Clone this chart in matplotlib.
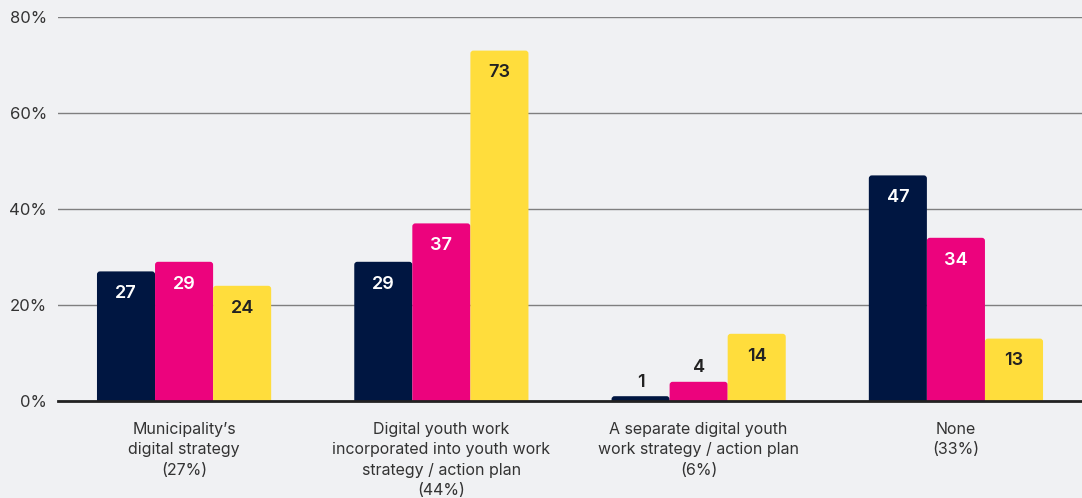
import matplotlib
matplotlib.use("Agg")
import matplotlib.pyplot as plt
from matplotlib.patches import FancyBboxPatch
import numpy as np

# Data
categories = [
    "Municipality\u2019s\ndigital strategy\n(27%)",
    "Digital youth work\nincorporated into youth work\nstrategy / action plan\n(44%)",
    "A separate digital youth\nwork strategy / action plan\n(6%)",
    "None\n(33%)",
]
series_a = [27, 29, 1, 47]
series_b = [29, 37, 4, 34]
series_c = [24, 73, 14, 13]
y_ticks = [0, 20, 40, 60, 80]
y_tick_labels = ["0%", "20%", "40%", "60%", "80%"]

colors = ["#001641", "#EC037D", "#FFDD3C"]
text_colors = ["white", "white", "#222222"]
bg = "#F0F1F3"

plt.rcParams["font.family"] = ["Inter", "DejaVu Sans"]

W, H = 1082, 498
fig = plt.figure(figsize=(W / 100, H / 100), dpi=100, facecolor=bg)
ax = fig.add_axes([58 / W, (H - 401) / H, (W - 58) / W, (401 - 17) / H])
ax.set_facecolor(bg)

x = np.arange(len(categories))
bw = 58 / 257
ax.set_xlim(-0.49, len(categories) - 0.51)
ax.set_ylim(0, 80)

# pixel-to-data ratios for rounded corners
x_per_px = (len(categories) - 0.02) / (W - 58)
y_per_px = 80 / (401 - 17)
r_px = 3.0

for k, (vals, col, tcol) in enumerate(zip([series_a, series_b, series_c], colors, text_colors)):
    pos = x + (k - 1) * bw
    bars = ax.bar(pos, vals, width=bw, color=col, zorder=3)
    for b, v in zip(bars, vals):
        b.set_visible(False)
        x0 = b.get_x()
        patch = FancyBboxPatch(
            (x0, -2), b.get_width(), v + 2,
            boxstyle=f"round,pad=0,rounding_size={r_px * x_per_px}",
            mutation_aspect=y_per_px / x_per_px,
            facecolor=col, edgecolor="none", zorder=3, clip_on=True,
        )
        ax.add_patch(patch)
        cx = x0 + b.get_width() / 2
        if v >= 10:
            ax.annotate(str(v), (cx, v), xytext=(0, -16), textcoords="offset points",
                        ha="center", va="center", fontsize=13, fontweight="semibold",
                        color=tcol, zorder=5)
        else:
            ax.annotate(str(v), (cx, v), xytext=(0, 10), textcoords="offset points",
                        ha="center", va="center", fontsize=13, fontweight="semibold",
                        color="#222222", zorder=5)

ax.set_yticks(y_ticks)
ax.set_yticklabels(y_tick_labels)
ax.yaxis.grid(True, color="#7f7f7f", linewidth=1.0, zorder=0)
ax.set_axisbelow(True)
ax.tick_params(axis="y", length=0, pad=8, labelsize=12, labelcolor="#333333")

ax.set_xticks(x)
ax.set_xticklabels(categories, linespacing=1.45)
ax.tick_params(axis="x", length=0, pad=15, labelsize=11.5, labelcolor="#333333")

for s in ["top", "right", "left"]:
    ax.spines[s].set_visible(False)
ax.spines["bottom"].set_color("#222222")
ax.spines["bottom"].set_linewidth(2)
ax.spines["bottom"].set_zorder(4)

fig.savefig("out.png", dpi=100, facecolor=bg)
